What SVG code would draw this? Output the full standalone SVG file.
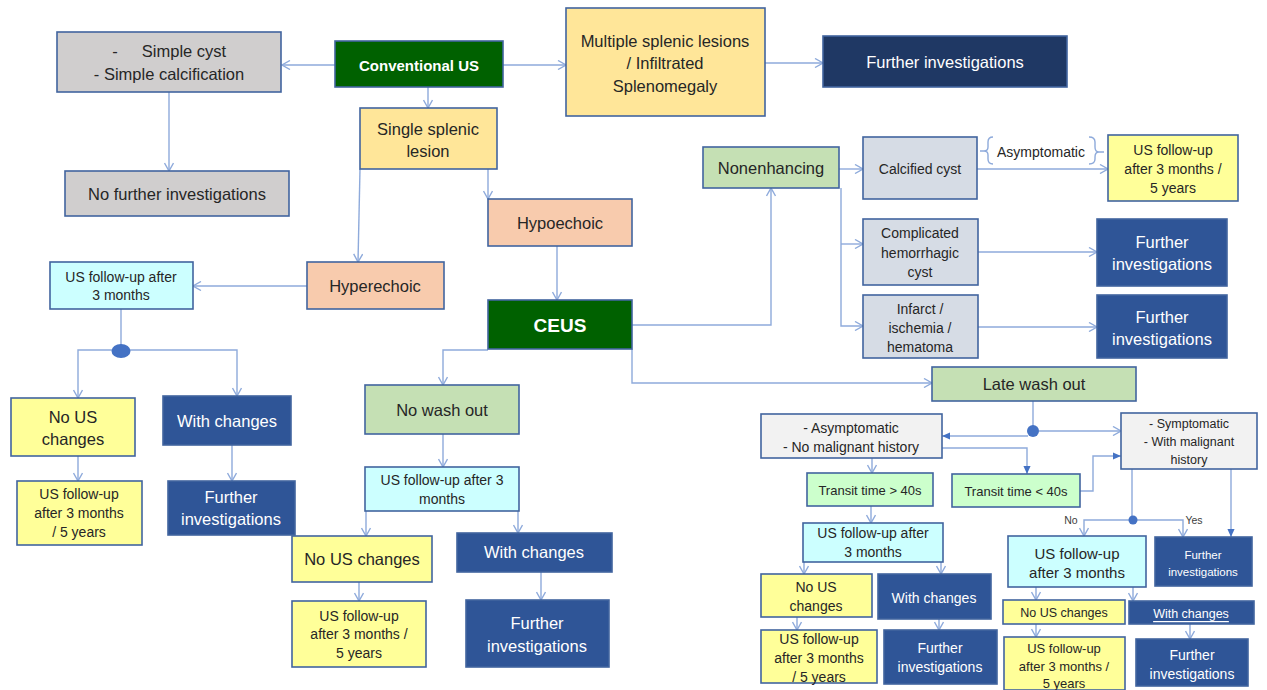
<svg xmlns="http://www.w3.org/2000/svg" width="1267" height="690" viewBox="0 0 1267 690">
<defs>
<style>
rect{stroke:#41649f;stroke-width:1.6}
text{font-family:"Liberation Sans",Arial,sans-serif;fill:#262626;text-anchor:middle;dominant-baseline:central}
.w{fill:#ffffff}
.b{font-weight:bold}
.s17{font-size:16.5px}
.s15{font-size:15px}
.s14{font-size:14px}
.s13{font-size:13px}
.s12{font-size:12.5px}
.s10{font-size:10.5px;fill:#404040}
.gray{fill:#d0cece}.dg{fill:#006100}.ly{fill:#ffe699}.nv{fill:#1f3864}.bl{fill:#2f5597}
.pe{fill:#f8cbad}.lg{fill:#c5e0b4}.gb{fill:#d6dce5}.yl{fill:#ffff99}.cy{fill:#ccffff}
.lgr{fill:#f2f2f2}.tg{fill:#ccffcc}
#connectors path{fill:none;stroke:#8eaadb;stroke-width:1.4}
#connectors path.a{marker-end:url(#open)}
#connectors path.f{marker-end:url(#fill)}
</style>
<marker id="open" viewBox="0 0 10 10" refX="9" refY="5" markerWidth="10" markerHeight="10" markerUnits="userSpaceOnUse" orient="auto">
<path d="M1,0.5 L9,5 L1,9.5" fill="none" stroke="#8eaadb" stroke-width="1.4"/>
</marker>
<marker id="fill" viewBox="0 0 10 10" refX="9" refY="5" markerWidth="9" markerHeight="9" markerUnits="userSpaceOnUse" orient="auto">
<path d="M0,1 L9,5 L0,9 Z" fill="#4472c4"/>
</marker>
</defs>
<rect x="0" y="0" width="1267" height="690" fill="#ffffff" style="stroke:none"/>

<g id="connectors">
<path class="a" d="M335,65 H282"/>
<path class="a" d="M169,92 V171"/>
<path class="a" d="M503,65 H566"/>
<path class="a" d="M765,63 H823"/>
<path class="a" d="M428,87 V108"/>
<path class="a" d="M360,169 L358,262"/>
<path class="a" d="M488,169 V199"/>
<path class="a" d="M557,246 V300"/>
<path class="a" d="M307,286 H193"/>
<path d="M121,309 V346"/>
<path class="a" d="M121,350 H78 V398"/>
<path class="a" d="M121,350 H237 V396"/>
<path class="a" d="M78,456 V481"/>
<path class="a" d="M232,445 V481"/>
<path class="a" d="M488,350 H443 V385"/>
<path class="a" d="M443,434 V467"/>
<path class="a" d="M366,511 V536"/>
<path class="a" d="M518,511 V533"/>
<path class="a" d="M359,582 V601"/>
<path class="a" d="M541,572 V600"/>
<path class="a" d="M632,325 H771 V188"/>
<path class="a" d="M839,169 H863"/>
<path class="a" d="M841,188 V326 H863"/>
<path class="a" d="M841,244 H863"/>
<path class="a" d="M977,169 H1108"/>
<path class="a" d="M978,252 H1097"/>
<path class="a" d="M978,327 H1097"/>
<path class="a" d="M632,349 V383 H932"/>
<path d="M1033,401 V426"/>
<path class="a" d="M1039,431 H1121"/>
<path class="f" d="M1028,436 H942"/>
<path class="f" d="M942,448 H1027 V474"/>
<path class="a" d="M872,458 V473"/>
<path class="f" d="M1080,491 H1093 V456 H1121"/>
<path d="M1132,469 V517"/>
<path class="a" d="M1132,520 H1084 V536"/>
<path class="a" d="M1132,520 H1183 V537"/>
<path class="f" d="M1231,469 V537"/>
<path class="a" d="M871,506 V523"/>
<path class="a" d="M804,562 V574"/>
<path class="a" d="M941,562 V574"/>
<path class="a" d="M797,617 V630"/>
<path class="a" d="M939,619 V630"/>
<path class="a" d="M1036,587 V600"/>
<path class="a" d="M1133,587 V601"/>
<path class="a" d="M1036,624 V637"/>
<path class="a" d="M1190,624 V639"/>
<path d="M993,137 Q988,137 988,142 V147 Q988,151 984,151 Q988,151 988,155 V159 Q988,164 993,164 M980,151 H984"/>
<path d="M1089,137 Q1095,137 1095,142 V147 Q1095,152 1099,152 Q1095,152 1095,157 V159 Q1095,164 1089,164 M1099,152 H1104"/>
<ellipse cx="121" cy="351" rx="9.5" ry="7" fill="#4472c4" stroke="none"/>
<circle cx="1033" cy="431" r="6" fill="#4472c4"/>
<circle cx="1133" cy="520" r="4.5" fill="#4472c4"/>
</g>

<g id="simple-cyst"><rect class="gray" x="57" y="32" width="224" height="60"/>
<text class="s17" x="115" y="51">-</text><text class="s17" x="184" y="51">Simple cyst</text>
<text class="s17" x="169" y="74">- Simple calcification</text></g>
<g id="no-further"><rect class="gray" x="65" y="171" width="224" height="45"/><text class="s17" x="177" y="194">No further investigations</text></g>
<g id="conventional-us"><rect class="dg" x="335" y="41" width="168" height="46"/><text class="s15 b w" x="419" y="65">Conventional US</text></g>
<g id="multiple"><rect class="ly" x="566" y="8" width="199" height="108"/>
<text class="s17" x="665" y="41">Multiple splenic lesions</text><text class="s17" x="665" y="63">/ Infiltrated</text><text class="s17" x="665" y="86">Splenomegaly</text></g>
<g id="further-top"><rect class="nv" x="823" y="36" width="244" height="51"/><text class="s17 w" x="945" y="62">Further investigations</text></g>
<g id="single"><rect class="ly" x="360" y="108" width="137" height="61"/>
<text class="s17" x="428" y="129">Single splenic</text><text class="s17" x="428" y="151">lesion</text></g>
<g id="hypoechoic"><rect class="pe" x="488" y="199" width="144" height="47"/><text class="s17" x="560" y="223">Hypoechoic</text></g>
<g id="hyperechoic"><rect class="pe" x="307" y="262" width="137" height="47"/><text class="s17" x="375" y="286">Hyperechoic</text></g>
<g id="ceus"><rect class="dg" x="488" y="300" width="144" height="49"/><text class="b w" style="font-size:19px" x="560" y="325">CEUS</text></g>

<g id="fu-left"><rect class="cy" x="50" y="262" width="143" height="47"/>
<text class="s14" x="121" y="277">US follow-up after</text><text class="s14" x="121" y="295">3 months</text></g>
<g id="nochg-left"><rect class="yl" x="11" y="398" width="124" height="58"/>
<text class="s17" x="73" y="417">No US</text><text class="s17" x="73" y="439">changes</text></g>
<g id="chg-left"><rect class="bl" x="163" y="396" width="128" height="49"/><text class="s17 w" x="227" y="421">With changes</text></g>
<g id="fu5-left"><rect class="yl" x="17" y="481" width="125" height="64"/>
<text class="s14" x="79" y="494">US follow-up</text><text class="s14" x="79" y="513">after 3 months</text><text class="s14" x="79" y="532">/ 5 years</text></g>
<g id="further-left"><rect class="bl" x="168" y="481" width="127" height="54"/>
<text class="s17 w" x="231" y="497">Further</text><text class="s17 w" x="231" y="519">investigations</text></g>

<g id="no-wash"><rect class="lg" x="365" y="385" width="154" height="49"/><text class="s17" x="442" y="410">No wash out</text></g>
<g id="fu-mid"><rect class="cy" x="365" y="467" width="154" height="44"/>
<text class="s14" x="442" y="480">US follow-up after 3</text><text class="s14" x="442" y="499">months</text></g>
<g id="nochg-mid"><rect class="yl" x="292" y="536" width="140" height="46"/><text class="s17" x="362" y="559">No US changes</text></g>
<g id="chg-mid"><rect class="bl" x="457" y="533" width="155" height="39"/><text class="s17 w" x="534" y="552">With changes</text></g>
<g id="fu5-mid"><rect class="yl" x="292" y="601" width="134" height="66"/>
<text class="s14" x="359" y="616">US follow-up</text><text class="s14" x="359" y="634">after 3 months /</text><text class="s14" x="359" y="653">5 years</text></g>
<g id="further-mid"><rect class="bl" x="466" y="600" width="143" height="67"/>
<text class="s17 w" x="537" y="623">Further</text><text class="s17 w" x="537" y="646">investigations</text></g>

<g id="nonenhancing"><rect class="lg" x="703" y="147" width="136" height="41"/><text class="s17" x="771" y="168">Nonenhancing</text></g>
<g id="calcified"><rect class="gb" x="863" y="137" width="114" height="62"/><text class="s14" x="920" y="169">Calcified cyst</text></g>
<g id="asymptomatic-label"><text class="s14" x="1041" y="152">Asymptomatic</text></g>
<g id="fu5-top"><rect class="yl" x="1108" y="135" width="130" height="66"/>
<text class="s14" x="1173" y="150">US follow-up</text><text class="s14" x="1173" y="169">after 3 months /</text><text class="s14" x="1173" y="188">5 years</text></g>
<g id="complicated"><rect class="gb" x="863" y="219" width="115" height="66"/>
<text class="s14" x="920" y="233">Complicated</text><text class="s14" x="920" y="253">hemorrhagic</text><text class="s14" x="920" y="272">cyst</text></g>
<g id="further-r1"><rect class="bl" x="1097" y="219" width="130" height="67"/>
<text class="s17 w" x="1162" y="242">Further</text><text class="s17 w" x="1162" y="264">investigations</text></g>
<g id="infarct"><rect class="gb" x="863" y="295" width="115" height="63"/>
<text class="s14" x="920" y="309">Infarct /</text><text class="s14" x="920" y="328">ischemia /</text><text class="s14" x="920" y="347">hematoma</text></g>
<g id="further-r2"><rect class="bl" x="1097" y="295" width="130" height="63"/>
<text class="s17 w" x="1162" y="317">Further</text><text class="s17 w" x="1162" y="339">investigations</text></g>

<g id="late-wash"><rect class="lg" x="932" y="367" width="204" height="34"/><text class="s17" x="1034" y="384">Late wash out</text></g>
<g id="asym"><rect class="lgr" x="761" y="414" width="181" height="44"/>
<text class="s14" x="851" y="428">- Asymptomatic</text><text class="s14" x="851" y="447">- No malignant history</text></g>
<g id="sym"><rect class="lgr" x="1121" y="413" width="136" height="56"/>
<text class="s12" x="1189" y="424">- Symptomatic</text><text class="s12" x="1189" y="442">- With malignant</text><text class="s12" x="1189" y="460">history</text></g>
<g id="transit-gt"><rect class="tg" x="807" y="473" width="126" height="33"/><text class="s13" x="870" y="490">Transit time &gt; 40s</text></g>
<g id="transit-lt"><rect class="tg" x="952" y="474" width="128" height="33"/><text class="s13" x="1016" y="491">Transit time &lt; 40s</text></g>
<g id="labels"><text class="s10" x="1071" y="520">No</text><text class="s10" x="1194" y="520">Yes</text></g>

<g id="fu-r1"><rect class="cy" x="803" y="523" width="140" height="39"/>
<text class="s14" x="873" y="533">US follow-up after</text><text class="s14" x="873" y="552">3 months</text></g>
<g id="nochg-r1"><rect class="yl" x="761" y="574" width="111" height="43"/>
<text class="s14" x="816" y="587">No US</text><text class="s14" x="816" y="606">changes</text></g>
<g id="chg-r1"><rect class="bl" x="878" y="574" width="113" height="45"/><text class="s14 w" x="934" y="598">With changes</text></g>
<g id="fu5-r1"><rect class="yl" x="761" y="630" width="116" height="53"/>
<text class="s14" x="819" y="639">US follow-up</text><text class="s14" x="819" y="658">after 3 months</text><text class="s14" x="819" y="677">/ 5 years</text></g>
<g id="further-r3"><rect class="bl" x="884" y="630" width="113" height="54"/>
<text class="s14 w" x="940" y="648">Further</text><text class="s14 w" x="940" y="667">investigations</text></g>

<g id="fu-r2"><rect class="cy" x="1008" y="536" width="138" height="51"/>
<text class="s15" x="1077" y="553">US follow-up</text><text class="s15" x="1077" y="572">after 3 months</text></g>
<g id="further-small"><rect class="bl" x="1155" y="537" width="97" height="49"/>
<text class="s12 w" style="font-size:11.5px" x="1203" y="555">Further</text><text class="s12 w" style="font-size:11.5px" x="1203" y="572">investigations</text></g>
<g id="nochg-r2"><rect class="yl" x="1003" y="600" width="122" height="24"/><text class="s12" x="1064" y="613">No US changes</text></g>
<g id="chg-r2"><rect class="bl" x="1129" y="601" width="125" height="23"/><text class="s12 w" x="1191" y="614" text-decoration="underline">With changes</text></g>
<g id="fu5-r2"><rect class="yl" x="1004" y="637" width="121" height="53"/>
<text class="s13" x="1064" y="648">US follow-up</text><text class="s13" x="1064" y="666">after 3 months /</text><text class="s13" x="1064" y="683">5 years</text></g>
<g id="further-r4"><rect class="bl" x="1136" y="639" width="112" height="47"/>
<text class="s14 w" x="1192" y="655">Further</text><text class="s14 w" x="1192" y="674">investigations</text></g>
</svg>
